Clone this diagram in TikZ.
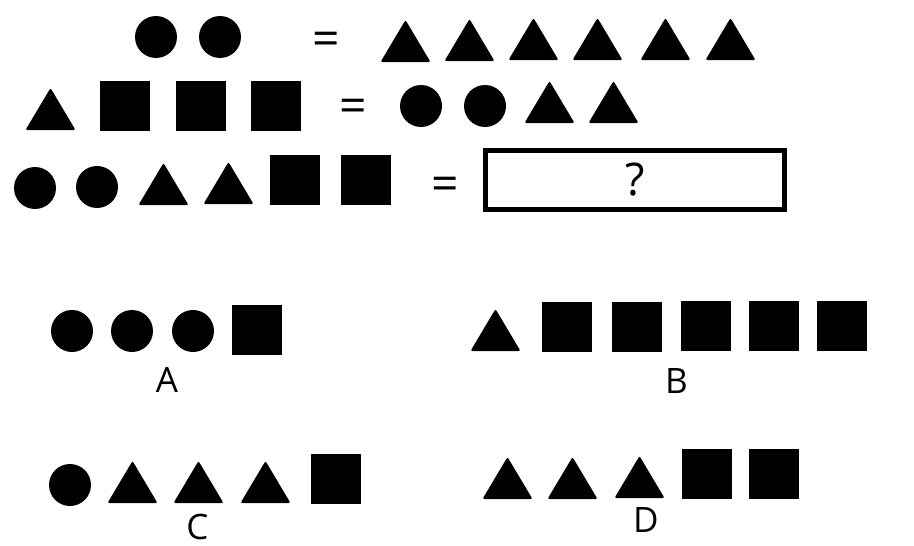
\documentclass[tikz,border=0pt]{standalone}
\usepackage{fontspec}
\setmainfont{Open Sans}
\tikzset{
  shp/.style={fill=black,draw=none},
  lbl/.style={inner sep=0pt,anchor=base,font=\fontsize{35}{40}\selectfont},
  eqs/.style={inner sep=0pt,anchor=base,font=\fontsize{48}{52}\selectfont},
}
\newcommand\shpC[2]{\fill[shp] (#1,#2) circle (21);}
\newcommand\shpT[2]{\fill[shp,rounded corners=2pt] (#1-25,#2) -- (#1+25,#2) -- (#1,#2-42) -- cycle;}
\newcommand\shpS[2]{\fill[shp] (#1,#2) rectangle ++(50,50);}
\begin{document}
\begin{tikzpicture}[x=1pt,y=-1pt]
\useasboundingbox[fill=white] (0,0) rectangle (914,546);
% row 1
\shpC{156}{37}\shpC{220}{37}
\node[eqs] (eq1) at (326,56) {=};
\shpT{405.5}{62}\shpT{469.5}{61}\shpT{533.5}{60}\shpT{597.5}{60}\shpT{665.5}{60}\shpT{730.5}{60}
% row 2
\shpT{50.5}{130}
\shpS{100}{81}\shpS{176}{81}\shpS{251}{81}
\node[eqs] (eq2) at (353,122) {=};
\shpC{421}{106}\shpC{485}{106}
\shpT{549.5}{123}\shpT{613.5}{123}
% row 3
\shpC{35}{188}\shpC{97}{187}
\shpT{163.5}{205}\shpT{228.5}{204}
\shpS{270}{155}\shpS{341}{155}
\node[eqs] (eq3) at (445,200) {=};
\draw[line width=4.5pt] (485.5,150.5) rectangle (784.5,209.5);
\node[inner sep=0pt,anchor=base,font=\fontsize{45}{50}\selectfont] (q) at (635,195) {?};
% option A
\shpC{72}{331}\shpC{132}{331}\shpC{193}{331}
\shpS{232}{305}
\node[lbl] (la) at (167,392) {A};
% option B
\shpT{495.5}{351}
\shpS{542}{302}\shpS{612}{302}\shpS{681}{301}\shpS{749}{301}\shpS{817}{301}
\node[lbl] (lb) at (676.5,393) {B};
% option C
\shpC{70}{485}
\shpT{132.5}{503}\shpT{198.5}{503}\shpT{265.5}{503}
\shpS{311}{454}
\node[lbl] (lc) at (197.5,539) {C};
% option D
\shpT{507.5}{499}\shpT{572.5}{499}\shpT{639.5}{498}
\shpS{682}{449}\shpS{749}{449}
\node[lbl] (ld) at (646,532) {D};
\end{tikzpicture}
\end{document}
